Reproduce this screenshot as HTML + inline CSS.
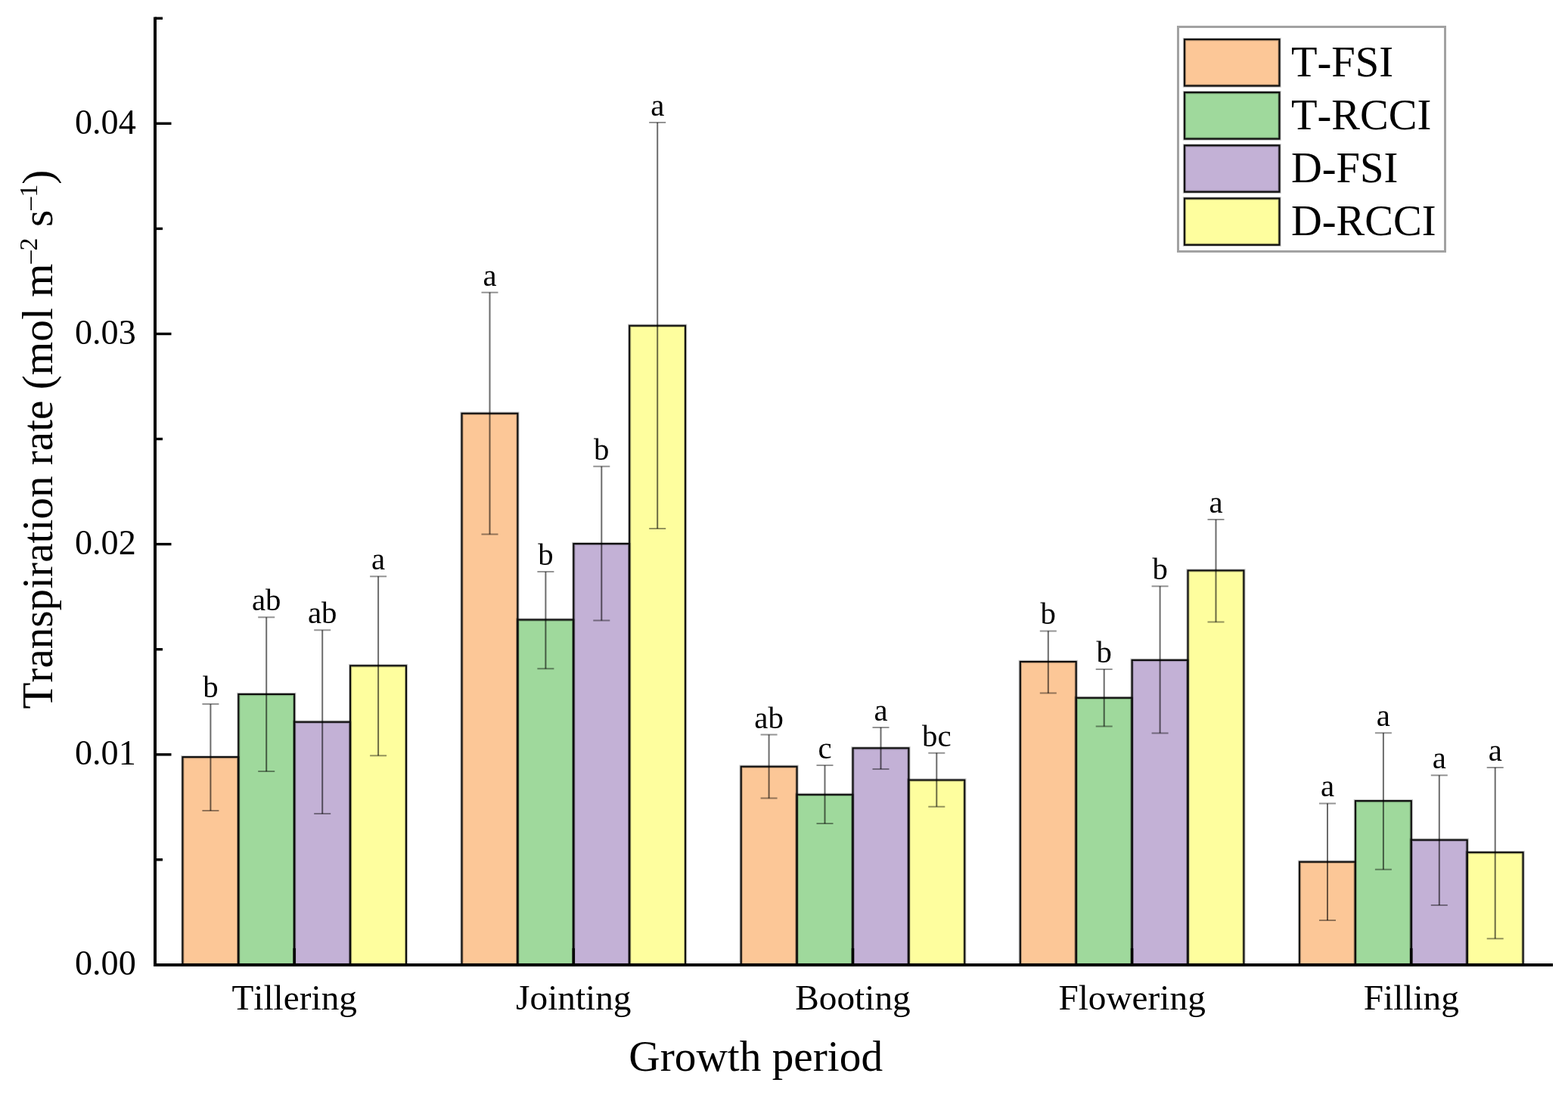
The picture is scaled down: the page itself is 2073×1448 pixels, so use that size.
<!DOCTYPE html>
<html lang="en"><head><meta charset="utf-8"><title>Transpiration rate by growth period</title>
<style>html,body{margin:0;padding:0;background:#fff}body{width:2073px;height:1448px;overflow:hidden}svg{display:block}text{font-family:"Liberation Serif",serif;fill:#000;font-kerning:none;font-variant-ligatures:none}</style></head><body>
<svg width="2073" height="1448" viewBox="0 0 2073 1448">
<rect x="0" y="0" width="2073" height="1448" fill="#fff"/>
<g stroke="#000" stroke-opacity="0.22" stroke-width="4.4" stroke-linejoin="miter">
<rect x="241.4" y="1001.1" width="73.9" height="274.8" fill="#FCC797"/>
<rect x="315.3" y="918.0" width="73.9" height="357.9" fill="#9FD99C"/>
<rect x="389.2" y="954.7" width="73.9" height="321.2" fill="#C3B1D6"/>
<rect x="463.1" y="880.3" width="73.9" height="395.6" fill="#FEFE9E"/>
<rect x="610.5" y="546.7" width="73.9" height="729.2" fill="#FCC797"/>
<rect x="684.4" y="819.5" width="73.9" height="456.4" fill="#9FD99C"/>
<rect x="758.3" y="719.0" width="73.9" height="556.9" fill="#C3B1D6"/>
<rect x="832.2" y="430.7" width="73.9" height="845.2" fill="#FEFE9E"/>
<rect x="979.7" y="1013.7" width="73.9" height="262.2" fill="#FCC797"/>
<rect x="1053.6" y="1050.8" width="73.9" height="225.1" fill="#9FD99C"/>
<rect x="1127.5" y="989.3" width="73.9" height="286.6" fill="#C3B1D6"/>
<rect x="1201.4" y="1031.5" width="73.9" height="244.4" fill="#FEFE9E"/>
<rect x="1348.8" y="875.0" width="73.9" height="400.9" fill="#FCC797"/>
<rect x="1422.8" y="922.8" width="73.9" height="353.1" fill="#9FD99C"/>
<rect x="1496.6" y="872.9" width="73.9" height="403.0" fill="#C3B1D6"/>
<rect x="1570.5" y="754.4" width="73.9" height="521.5" fill="#FEFE9E"/>
<rect x="1718.0" y="1139.7" width="73.9" height="136.2" fill="#FCC797"/>
<rect x="1791.9" y="1059.1" width="73.9" height="216.8" fill="#9FD99C"/>
<rect x="1865.8" y="1110.7" width="73.9" height="165.2" fill="#C3B1D6"/>
<rect x="1939.7" y="1127.2" width="73.9" height="148.7" fill="#FEFE9E"/>
</g>
<g stroke="#0d0d0d" stroke-opacity="1" stroke-width="2.1" stroke-linejoin="miter">
<rect x="241.4" y="1001.1" width="73.9" height="274.8" fill="none"/>
<rect x="315.3" y="918.0" width="73.9" height="357.9" fill="none"/>
<rect x="389.2" y="954.7" width="73.9" height="321.2" fill="none"/>
<rect x="463.1" y="880.3" width="73.9" height="395.6" fill="none"/>
<rect x="610.5" y="546.7" width="73.9" height="729.2" fill="none"/>
<rect x="684.4" y="819.5" width="73.9" height="456.4" fill="none"/>
<rect x="758.3" y="719.0" width="73.9" height="556.9" fill="none"/>
<rect x="832.2" y="430.7" width="73.9" height="845.2" fill="none"/>
<rect x="979.7" y="1013.7" width="73.9" height="262.2" fill="none"/>
<rect x="1053.6" y="1050.8" width="73.9" height="225.1" fill="none"/>
<rect x="1127.5" y="989.3" width="73.9" height="286.6" fill="none"/>
<rect x="1201.4" y="1031.5" width="73.9" height="244.4" fill="none"/>
<rect x="1348.8" y="875.0" width="73.9" height="400.9" fill="none"/>
<rect x="1422.8" y="922.8" width="73.9" height="353.1" fill="none"/>
<rect x="1496.6" y="872.9" width="73.9" height="403.0" fill="none"/>
<rect x="1570.5" y="754.4" width="73.9" height="521.5" fill="none"/>
<rect x="1718.0" y="1139.7" width="73.9" height="136.2" fill="none"/>
<rect x="1791.9" y="1059.1" width="73.9" height="216.8" fill="none"/>
<rect x="1865.8" y="1110.7" width="73.9" height="165.2" fill="none"/>
<rect x="1939.7" y="1127.2" width="73.9" height="148.7" fill="none"/>
</g>
<g stroke="#000" stroke-width="3.4">
<line x1="389.2" y1="1253.9" x2="389.2" y2="1275.9"/>
<line x1="758.3" y1="1253.9" x2="758.3" y2="1275.9"/>
<line x1="1127.5" y1="1253.9" x2="1127.5" y2="1275.9"/>
<line x1="1496.6" y1="1253.9" x2="1496.6" y2="1275.9"/>
<line x1="1865.8" y1="1253.9" x2="1865.8" y2="1275.9"/>
</g>
<g stroke="#000" stroke-opacity="0.58" fill="none">
<path stroke-width="2" d="M278.4 931.1V1072.1"/>
<path stroke-width="2" stroke-opacity="0.42" d="M267.4 931.1h22M267.4 1072.1h22"/>
<path stroke-width="2" d="M352.2 816.3V1020.1"/>
<path stroke-width="2" stroke-opacity="0.42" d="M341.2 816.3h22M341.2 1020.1h22"/>
<path stroke-width="2" d="M426.2 833.3V1076.1"/>
<path stroke-width="2" stroke-opacity="0.42" d="M415.2 833.3h22M415.2 1076.1h22"/>
<path stroke-width="2" d="M500.1 762.2V999.2"/>
<path stroke-width="2" stroke-opacity="0.42" d="M489.1 762.2h22M489.1 999.2h22"/>
<path stroke-width="2" d="M647.5 386.8V706.4"/>
<path stroke-width="2" stroke-opacity="0.42" d="M636.5 386.8h22M636.5 706.4h22"/>
<path stroke-width="2" d="M721.4 756.1V884.3"/>
<path stroke-width="2" stroke-opacity="0.42" d="M710.4 756.1h22M710.4 884.3h22"/>
<path stroke-width="2" d="M795.3 616.8V820.5"/>
<path stroke-width="2" stroke-opacity="0.42" d="M784.3 616.8h22M784.3 820.5h22"/>
<path stroke-width="2" d="M869.2 161.9V699.0"/>
<path stroke-width="2" stroke-opacity="0.42" d="M858.2 161.9h22M858.2 699.0h22"/>
<path stroke-width="2" d="M1016.6 971.5V1055.6"/>
<path stroke-width="2" stroke-opacity="0.42" d="M1005.6 971.5h22M1005.6 1055.6h22"/>
<path stroke-width="2" d="M1090.5 1012.1V1089.1"/>
<path stroke-width="2" stroke-opacity="0.42" d="M1079.5 1012.1h22M1079.5 1089.1h22"/>
<path stroke-width="2" d="M1164.5 961.9V1017.0"/>
<path stroke-width="2" stroke-opacity="0.42" d="M1153.5 961.9h22M1153.5 1017.0h22"/>
<path stroke-width="2" d="M1238.3 995.7V1066.7"/>
<path stroke-width="2" stroke-opacity="0.42" d="M1227.3 995.7h22M1227.3 1066.7h22"/>
<path stroke-width="2" d="M1385.8 834.4V916.6"/>
<path stroke-width="2" stroke-opacity="0.42" d="M1374.8 834.4h22M1374.8 916.6h22"/>
<path stroke-width="2" d="M1459.7 885.0V960.5"/>
<path stroke-width="2" stroke-opacity="0.42" d="M1448.7 885.0h22M1448.7 960.5h22"/>
<path stroke-width="2" d="M1533.6 775.2V969.4"/>
<path stroke-width="2" stroke-opacity="0.42" d="M1522.6 775.2h22M1522.6 969.4h22"/>
<path stroke-width="2" d="M1607.5 687.1V822.6"/>
<path stroke-width="2" stroke-opacity="0.42" d="M1596.5 687.1h22M1596.5 822.6h22"/>
<path stroke-width="2" d="M1755.0 1062.4V1217.0"/>
<path stroke-width="2" stroke-opacity="0.42" d="M1744.0 1062.4h22M1744.0 1217.0h22"/>
<path stroke-width="2" d="M1828.9 969.2V1149.8"/>
<path stroke-width="2" stroke-opacity="0.42" d="M1817.9 969.2h22M1817.9 1149.8h22"/>
<path stroke-width="2" d="M1902.8 1025.3V1197.0"/>
<path stroke-width="2" stroke-opacity="0.42" d="M1891.8 1025.3h22M1891.8 1197.0h22"/>
<path stroke-width="2" d="M1976.7 1015.0V1241.2"/>
<path stroke-width="2" stroke-opacity="0.42" d="M1965.7 1015.0h22M1965.7 1241.2h22"/>
</g>
<g font-size="40.8" text-anchor="middle">
<text x="278.4" y="922.1">b</text>
<text x="352.2" y="807.3">ab</text>
<text x="426.2" y="824.3">ab</text>
<text x="500.1" y="753.2">a</text>
<text x="647.5" y="377.8">a</text>
<text x="721.4" y="747.1">b</text>
<text x="795.3" y="607.8">b</text>
<text x="869.2" y="152.9">a</text>
<text x="1016.6" y="962.5">ab</text>
<text x="1090.5" y="1003.1">c</text>
<text x="1164.5" y="952.9">a</text>
<text x="1238.3" y="986.7">bc</text>
<text x="1385.8" y="825.4">b</text>
<text x="1459.7" y="876.0">b</text>
<text x="1533.6" y="766.2">b</text>
<text x="1607.5" y="678.1">a</text>
<text x="1755.0" y="1053.4">a</text>
<text x="1828.9" y="960.2">a</text>
<text x="1902.8" y="1016.3">a</text>
<text x="1976.7" y="1006.0">a</text>
</g>
<g stroke="#000" stroke-width="4" fill="none">
<path d="M205.0 22.6V1275.9H2053.0" stroke-linejoin="miter"/>
<path stroke-width="3.4" d="M205.0 1136.8H215.0"/>
<path stroke-width="3.4" d="M205.0 997.8H226.5"/>
<path stroke-width="3.4" d="M205.0 858.7H215.0"/>
<path stroke-width="3.4" d="M205.0 719.6H226.5"/>
<path stroke-width="3.4" d="M205.0 580.5H215.0"/>
<path stroke-width="3.4" d="M205.0 441.5H226.5"/>
<path stroke-width="3.4" d="M205.0 302.4H215.0"/>
<path stroke-width="3.4" d="M205.0 163.3H226.5"/>
<path stroke-width="3.4" d="M205.0 24.2H215.0"/>
</g>
<g font-size="46.2" text-anchor="end">
<text x="179.8" y="1289.4">0.00</text>
<text x="179.8" y="1011.3">0.01</text>
<text x="179.8" y="733.1">0.02</text>
<text x="179.8" y="455.0">0.03</text>
<text x="179.8" y="176.8">0.04</text>
</g>
<g font-size="47.3" text-anchor="middle">
<text x="389.2" y="1335.4">Tillering</text>
<text x="758.3" y="1335.4">Jointing</text>
<text x="1127.5" y="1335.4">Booting</text>
<text x="1496.6" y="1335.4">Flowering</text>
<text x="1865.8" y="1335.4">Filling</text>
</g>
<text x="999.2" y="1415.5" font-size="57.3" text-anchor="middle">Growth period</text>
<text transform="translate(68.8 581.2) rotate(-90)" font-size="57.2" text-anchor="middle">Transpiration rate (mol m<tspan font-size="34" dy="-20">–2</tspan><tspan dy="20"> s</tspan><tspan font-size="34" dy="-20">–1</tspan><tspan dy="20">)</tspan></text>
<rect x="1557.5" y="35.5" width="353" height="297" fill="#fff" stroke="#a2a2a2" stroke-width="3"/>
<rect x="1566" y="52.1" width="125.5" height="61.4" fill="#FCC797" stroke="#000" stroke-opacity="0.22" stroke-width="4.4"/>
<rect x="1566" y="52.1" width="125.5" height="61.4" fill="none" stroke="#0d0d0d" stroke-width="2.2"/>
<text x="1707" y="101.3" font-size="56.5">T-FSI</text>
<rect x="1566" y="122.2" width="125.5" height="61.4" fill="#9FD99C" stroke="#000" stroke-opacity="0.22" stroke-width="4.4"/>
<rect x="1566" y="122.2" width="125.5" height="61.4" fill="none" stroke="#0d0d0d" stroke-width="2.2"/>
<text x="1707" y="171.3" font-size="56.5">T-RCCI</text>
<rect x="1566" y="192.3" width="125.5" height="61.4" fill="#C3B1D6" stroke="#000" stroke-opacity="0.22" stroke-width="4.4"/>
<rect x="1566" y="192.3" width="125.5" height="61.4" fill="none" stroke="#0d0d0d" stroke-width="2.2"/>
<text x="1707" y="241.3" font-size="56.5">D-FSI</text>
<rect x="1566" y="262.4" width="125.5" height="61.4" fill="#FEFE9E" stroke="#000" stroke-opacity="0.22" stroke-width="4.4"/>
<rect x="1566" y="262.4" width="125.5" height="61.4" fill="none" stroke="#0d0d0d" stroke-width="2.2"/>
<text x="1707" y="311.3" font-size="56.5">D-RCCI</text>
</svg></body></html>
